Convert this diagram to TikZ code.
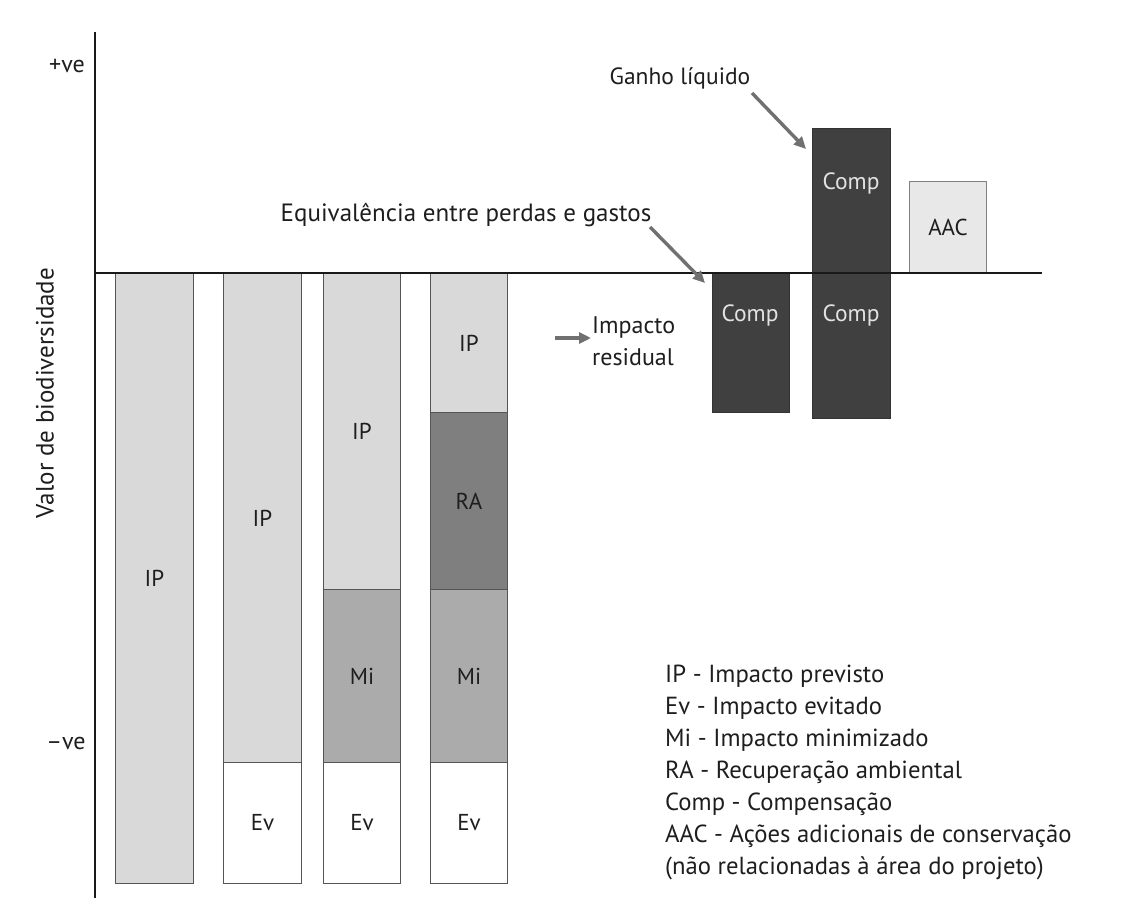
\documentclass[tikz,border=0pt]{standalone}
\usepackage{fontspec}
\setmainfont{PT Sans}
\usetikzlibrary{arrows.meta}
\definecolor{ipc}{HTML}{D9D9D9}
\definecolor{mic}{HTML}{ABABAB}
\definecolor{rac}{HTML}{7F7F7F}
\definecolor{compc}{HTML}{404040}
\definecolor{aacc}{HTML}{E8E8E8}
\definecolor{edgec}{HTML}{555555}
\definecolor{arrc}{HTML}{707070}
\definecolor{txtc}{HTML}{1E1E1E}
\definecolor{comptxt}{HTML}{E2E2E2}
\begin{document}
\begin{tikzpicture}[x=1pt,y=-1pt,
  seg/.style={draw=edgec, line width=1pt, rectangle, inner sep=0pt, anchor=north west,
    font=\fontsize{23}{26}\selectfont, text=txtc},
  compbox/.style={seg, fill=compc, draw=black!80},
  lbl/.style={font=\fontsize{24}{30}\selectfont, text=txtc, inner sep=0pt},
  complbl/.style={font=\fontsize{23.5}{26}\selectfont, text=comptxt, inner sep=0pt},
  callout/.style={draw=arrc, line width=3.4pt, -{Triangle[length=12pt,width=11pt]}},
  axisline/.style={line width=1.3pt, draw=black!90},
]
\useasboundingbox (0,0) rectangle (1122,911);
\fill[white] (0,0) rectangle (1122,911);

% bar 1
\node[seg, fill=ipc, minimum width=78pt, minimum height=610pt] (b1ip) at (115,273) {IP};
% bar 2
\node[seg, fill=ipc, minimum width=78pt, minimum height=489pt] (b2ip) at (223,273) {IP};
\node[seg, fill=white, minimum width=78pt, minimum height=121pt] (b2ev) at (223,762) {Ev};
% bar 3
\node[seg, fill=ipc, minimum width=77pt, minimum height=316pt] (b3ip) at (323,273) {IP};
\node[seg, fill=mic, minimum width=77pt, minimum height=173pt] (b3mi) at (323,589) {Mi};
\node[seg, fill=white, minimum width=77pt, minimum height=121pt] (b3ev) at (323,762) {Ev};
% bar 4
\node[seg, fill=ipc, minimum width=77pt, minimum height=139pt] (b4ip) at (430,273) {IP};
\node[seg, fill=rac, minimum width=77pt, minimum height=177pt] (b4ra) at (430,412) {RA};
\node[seg, fill=mic, minimum width=77pt, minimum height=173pt] (b4mi) at (430,589) {Mi};
\node[seg, fill=white, minimum width=77pt, minimum height=121pt] (b4ev) at (430,762) {Ev};

% compensation bars
\node[compbox, minimum width=77pt, minimum height=139pt] (c1) at (712,273) {};
\node[complbl] (c1l) at (750,315) {Comp};
\node[compbox, minimum width=78pt, minimum height=145pt] (c2u) at (812,128) {};
\node[complbl] (c2ul) at (851,183) {Comp};
\node[compbox, minimum width=78pt, minimum height=145pt] (c2d) at (812,273) {};
\node[complbl] (c2dl) at (851,315) {Comp};
\node[seg, fill=aacc, draw=black!50, minimum width=77pt, minimum height=92pt] (aac) at (909,181) {AAC};

% axes
\coordinate (ytop) at (95,32);
\coordinate (ybot) at (95,898);
\coordinate (xl) at (95,273);
\coordinate (xr) at (1042,273);
\draw[axisline] (ytop) -- (ybot);
\draw[axisline] (xl) -- (xr);

\node[lbl] (pve) at (67,66) {+ve};
\node[lbl] (nve) at (66,743) {–ve};
\node[lbl, rotate=90, font=\fontsize{25}{30}\selectfont] (ylab) at (45,393) {Valor de biodiversidade};

% callouts
\node[lbl, font=\fontsize{23.5}{30}\selectfont] (ganho) at (680,78) {Ganho líquido};
\coordinate (g1) at (752,93);
\coordinate (g2) at (806,149);
\draw[callout] (g1) -- (g2);

\node[lbl, font=\fontsize{25}{30}\selectfont] (equiv) at (466,215) {Equivalência entre perdas e gastos};
\coordinate (e1) at (650,227);
\coordinate (e2) at (705,283);
\draw[callout] (e1) -- (e2);

\node[lbl, align=left, anchor=west, font=\fontsize{24}{32}\selectfont] (resid) at (592,341) {Impacto\\residual};
\coordinate (r1) at (555,338);
\coordinate (r2) at (591,338);
\draw[callout] (r1) -- (r2);

% legend
\node[lbl, align=left, anchor=north west, font=\fontsize{24.7}{32}\selectfont] (legend) at (665,665)
  {IP - Impacto previsto\\
   Ev - Impacto evitado\\
   Mi - Impacto minimizado\\
   RA - Recuperação ambiental\\
   Comp - Compensação\\
   AAC - Ações adicionais de conservação\\
   (não relacionadas à área do projeto)};
\end{tikzpicture}
\end{document}
